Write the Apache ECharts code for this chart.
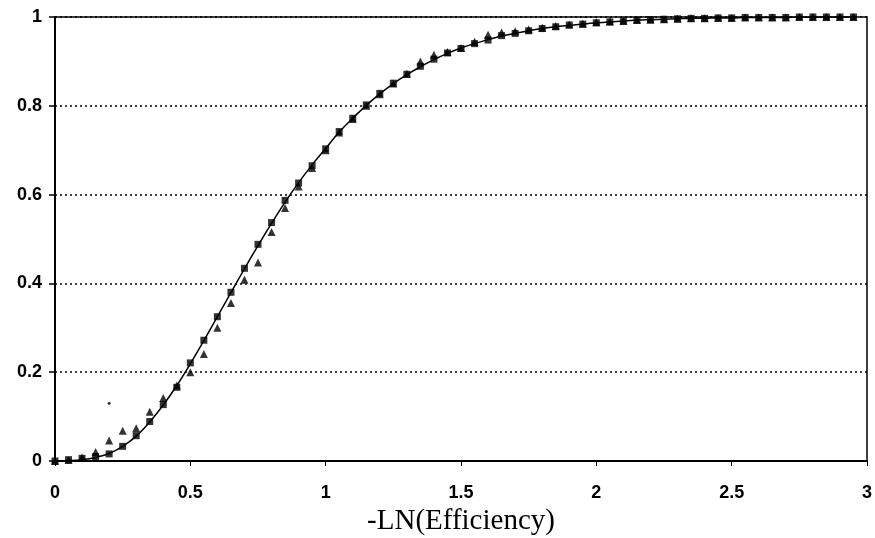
<!DOCTYPE html>
<html>
<head>
<meta charset="utf-8">
<script src="https://cdn.jsdelivr.net/npm/echarts@6/dist/echarts.min.js"></script>
<style>
  html, body { margin: 0; padding: 0; background: #fff; }
  #chart { width: 875px; height: 538px; }
</style>
</head>
<body>
<div id="chart"></div>
<script>
// x positions (-LN(Efficiency)), step 0.05
const xValues = [
  0, 0.05, 0.1, 0.15, 0.2, 0.25, 0.3, 0.35, 0.4, 0.45,
  0.5, 0.55, 0.6, 0.65, 0.7, 0.75, 0.8, 0.85, 0.9, 0.95,
  1, 1.05, 1.1, 1.15, 1.2, 1.25, 1.3, 1.35, 1.4, 1.45,
  1.5, 1.55, 1.6, 1.65, 1.7, 1.75, 1.8, 1.85, 1.9, 1.95,
  2, 2.05, 2.1, 2.15, 2.2, 2.25, 2.3, 2.35, 2.4, 2.45,
  2.5, 2.55, 2.6, 2.65, 2.7, 2.75, 2.8, 2.85, 2.9, 2.95
];

// square markers
const squareValues = [
  0, 0.003, 0.006, 0.01, 0.016, 0.033, 0.057, 0.089, 0.127, 0.166,
  0.221, 0.272, 0.325, 0.38, 0.434, 0.488, 0.537, 0.587, 0.626, 0.665,
  0.703, 0.742, 0.772, 0.802, 0.828, 0.851, 0.871, 0.889, 0.905, 0.919,
  0.929, 0.94, 0.948, 0.958, 0.963, 0.969, 0.974, 0.978, 0.982, 0.984,
  0.987, 0.989, 0.991, 0.993, 0.994, 0.995, 0.996, 0.997, 0.997, 0.998,
  0.998, 0.999, 0.999, 0.999, 0.999, 1, 1, 1, 1, 1
];

// triangle markers
const triangleValues = [
  0, 0.002, 0.008, 0.02, 0.046, 0.068, 0.074, 0.111, 0.142, 0.17,
  0.2, 0.241, 0.3, 0.356, 0.408, 0.447, 0.516, 0.57, 0.618, 0.66,
  0.7, 0.74, 0.77, 0.8, 0.826, 0.85, 0.872, 0.9, 0.915, 0.921,
  0.93, 0.944, 0.96, 0.965, 0.968, 0.972, 0.976, 0.98, 0.983, 0.985,
  0.988, 0.99, 0.991, 0.993, 0.994, 0.995, 0.996, 0.997, 0.997, 0.998,
  0.998, 0.999, 0.999, 0.999, 0.999, 1, 1, 1, 1, 1
];

// fitted curve (solid line)
const fitValues = [
  0, 0.001, 0.003, 0.008, 0.017, 0.033, 0.056, 0.088, 0.126, 0.17,
  0.219, 0.271, 0.325, 0.379, 0.433, 0.485, 0.535, 0.583, 0.627, 0.667,
  0.704, 0.741, 0.772, 0.801, 0.827, 0.85, 0.87, 0.888, 0.904, 0.918,
  0.93, 0.94, 0.949, 0.957, 0.963, 0.969, 0.974, 0.978, 0.981, 0.984,
  0.987, 0.989, 0.991, 0.993, 0.994, 0.995, 0.996, 0.997, 0.997, 0.998,
  0.998, 0.999, 0.999, 0.999, 0.999, 1, 1, 1, 1, 1
];

// lone stray point
const strayPoint = [[0.2, 0.13]];

const xTicks = [0, 0.5, 1, 1.5, 2, 2.5, 3];
const yTicks = [0, 0.2, 0.4, 0.6, 0.8, 1];

const pairs = (ys) => xValues.map((x, i) => [x, ys[i]]);

const chart = echarts.init(document.getElementById('chart'));
chart.setOption({
  animation: false,
  backgroundColor: '#fff',
  grid: {
    left: 55,
    right: 8,
    top: 17,
    bottom: 77,
    outerBoundsMode: 'none',
    show: true,
    borderColor: '#000',
    borderWidth: 1.5,
  },
  xAxis: {
    type: 'value',
    min: xTicks[0],
    max: xTicks[xTicks.length - 1],
    interval: 0.5,
    name: '-LN(Efficiency)',
    nameLocation: 'middle',
    nameGap: 35,
    nameTextStyle: {
      fontFamily: 'Liberation Serif',
      fontSize: 29,
      color: '#000',
    },
    axisLine: { onZero: false, lineStyle: { color: '#000', width: 2 } },
    axisTick: { show: true, length: 5, lineStyle: { color: '#000', width: 1 } },
    axisLabel: {
      margin: 23,
      fontFamily: 'Liberation Sans',
      fontSize: 18,
      fontWeight: 'bold',
      color: '#000',
    },
    splitLine: { show: false },
  },
  yAxis: {
    type: 'value',
    min: yTicks[0],
    max: yTicks[yTicks.length - 1],
    interval: 0.2,
    axisLine: { show: true, onZero: false, lineStyle: { color: '#000', width: 2 } },
    axisTick: { show: true, length: 6, lineStyle: { color: '#000', width: 1.5 } },
    axisLabel: {
      margin: 13,
      fontFamily: 'Liberation Sans',
      fontSize: 18,
      fontWeight: 'bold',
      color: '#000',
    },
    splitLine: {
      show: true,
      lineStyle: { color: '#000', width: 1.5, type: [2, 3] },
    },
  },
  series: [
    {
      name: 'fit',
      type: 'line',
      data: pairs(fitValues),
      showSymbol: false,
      smooth: 0.3,
      lineStyle: { color: '#000', width: 1.5 },
      z: 3,
    },
    {
      name: 'triangles',
      type: 'scatter',
      data: pairs(triangleValues),
      symbol: 'triangle',
      symbolSize: 8,
      itemStyle: { color: '#000' },
      z: 4,
    },
    {
      name: 'squares',
      type: 'scatter',
      data: pairs(squareValues),
      symbol: 'rect',
      symbolSize: 7,
      itemStyle: { color: '#000' },
      z: 5,
    },
    {
      name: 'stray',
      type: 'scatter',
      data: strayPoint,
      symbol: 'circle',
      symbolSize: 3,
      itemStyle: { color: '#000' },
      z: 5,
    },
  ],
});
</script>
</body>
</html>
